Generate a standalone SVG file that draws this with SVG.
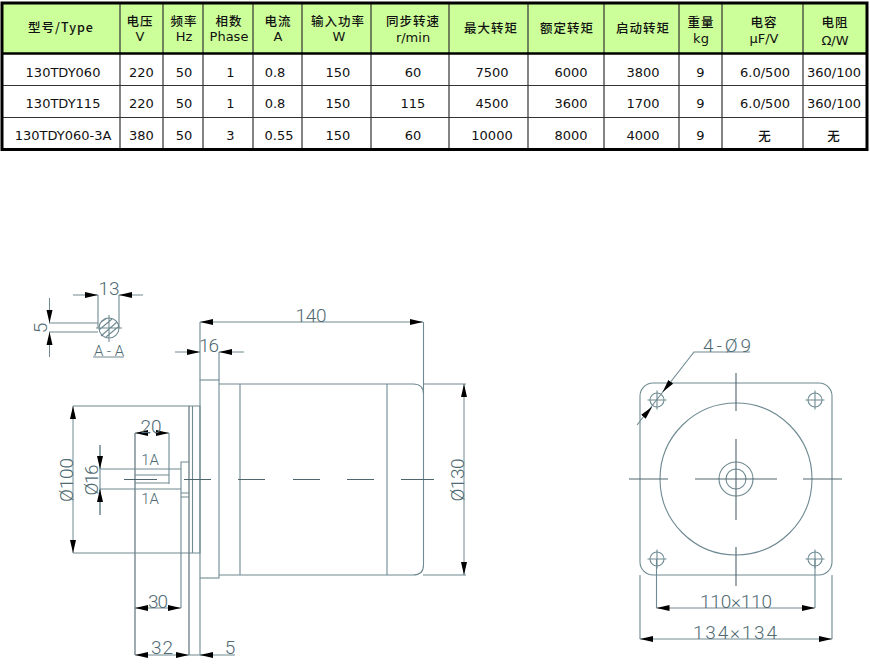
<svg xmlns="http://www.w3.org/2000/svg" width="870" height="665" viewBox="0 0 870 665">
<style>
.d{font-family:"DejaVu Sans",sans-serif;font-size:13px;fill:#111;text-anchor:middle}
.c{font-family:"Noto Sans CJK SC","DejaVu Sans",sans-serif;font-size:12.5px;font-weight:500;letter-spacing:1px;fill:#111;text-anchor:middle}
.l{stroke:#6f8a92;stroke-width:1.1;fill:none}
.k{stroke:#4f666e;stroke-width:1.1;fill:none}
.a{stroke:#6f8a92;stroke-width:1;fill:none;marker-end:url(#ar)}
.t{font-family:Roboto,"Liberation Sans",sans-serif;font-weight:300;font-size:19px;fill:#4f6a72;text-anchor:middle}
.s{font-size:15px}
.g{stroke:#333;stroke-width:1.2}
</style>
<defs>
<marker id="ar" markerUnits="userSpaceOnUse" markerWidth="14" markerHeight="7" refX="13" refY="3.5" orient="auto"><path d="M0 .5L13 3.5L0 6.500z" fill="#000"/></marker>
</defs>
<rect width="870" height="665" fill="#fff"/>
<g id="table">
<rect x="2" y="3" width="865" height="50" fill="#ccff99"/>
<g class="g">
<path d="M120 3V149M163 3V149M203 3V149M253 3V149M302 3V149M371 3V149M449 3V149M528 3V149M604 3V149M679 3V149M722 3V149M803 3V149"/>
<path d="M2 85.5H867M2 117.5H867"/>
</g>
<path d="M2 53.5H867" stroke="#000" stroke-width="2.5"/>
<rect x="2" y="3" width="865" height="146.500" fill="none" stroke="#000" stroke-width="3"/>
<g id="header">
<text class="c" x="61" y="32">型号/Type</text>
<text class="c" x="140" y="26">电压</text><text class="d" x="140" y="41">V</text>
<text class="c" x="184" y="26">频率</text><text class="d" x="184" y="41">Hz</text>
<text class="c" x="229" y="26">相数</text><text class="d" x="229" y="41">Phase</text>
<text class="c" x="278" y="26">电流</text><text class="d" x="278" y="41">A</text>
<text class="c" x="338" y="26">输入功率</text><text class="d" x="339" y="41">W</text>
<text class="c" x="413" y="26">同步转速</text><text class="d" x="413" y="42">r/min</text>
<text class="c" x="491" y="33">最大转矩</text>
<text class="c" x="567" y="33">额定转矩</text>
<text class="c" x="643" y="33">启动转矩</text>
<text class="c" x="701" y="27">重量</text><text class="d" x="701" y="43">kg</text>
<text class="c" x="764" y="27">电容</text><text class="d" x="764" y="43">μF/V</text>
<text class="c" x="835" y="27">电阻</text><text class="d" x="835" y="45">Ω/W</text>
</g>
<g id="row1">
<text class="d" x="63" y="76.5">130TDY060</text><text class="d" x="141.5" y="76.5">220</text><text class="d" x="184" y="76.5">50</text><text class="d" x="230.5" y="76.5">1</text><text class="d" x="275" y="76.5">0.8</text><text class="d" x="338" y="76.5">150</text><text class="d" x="413" y="76.5">60</text><text class="d" x="492" y="76.5">7500</text><text class="d" x="571" y="76.5">6000</text><text class="d" x="643" y="76.5">3800</text><text class="d" x="700.5" y="76.5">9</text><text class="d" x="765" y="76.5">6.0/500</text><text class="d" x="834" y="76.5">360/100</text>
</g>
<g id="row2">
<text class="d" x="63" y="108">130TDY115</text><text class="d" x="141.5" y="108">220</text><text class="d" x="184" y="108">50</text><text class="d" x="230.5" y="108">1</text><text class="d" x="275" y="108">0.8</text><text class="d" x="338" y="108">150</text><text class="d" x="413" y="108">115</text><text class="d" x="492" y="108">4500</text><text class="d" x="571" y="108">3600</text><text class="d" x="643" y="108">1700</text><text class="d" x="700.5" y="108">9</text><text class="d" x="765" y="108">6.0/500</text><text class="d" x="834" y="108">360/100</text>
</g>
<g id="row3">
<text class="d" x="63" y="140">130TDY060-3A</text><text class="d" x="141.5" y="140">380</text><text class="d" x="184" y="140">50</text><text class="d" x="230.5" y="140">3</text><text class="d" x="279" y="140">0.55</text><text class="d" x="338" y="140">150</text><text class="d" x="413" y="140">60</text><text class="d" x="492" y="140">10000</text><text class="d" x="571" y="140">8000</text><text class="d" x="643" y="140">4000</text><text class="d" x="700.5" y="140">9</text><text class="c" x="765" y="141">无</text><text class="c" x="834" y="141">无</text>
</g>
</g>
<g id="section-aa">
<circle class="l" cx="109" cy="328" r="10"/>
<path class="l" d="M109 315V342M96 328H122M101 322L107 318M99 330L112 319M101 336L117 322M106 337L118 327"/>
<path class="l" d="M98 295V328M119 295V328M49 323H98M49 332H98M93 357H124"/>
<path class="a" d="M73 295H98"/><path class="a" d="M143 295H119"/>
<path class="a" d="M49.5 298V323"/><path class="a" d="M49.5 357V332"/>
<text class="t" x="109" y="295" textLength="21">13</text>
<text class="t" transform="translate(47 328) rotate(-90)">5</text>
<text class="t s" x="109" y="356" textLength="30">A-A</text>
</g>
<g id="side-view">
<path class="l" d="M200 322V380M219 352V380"/>
<rect class="l" x="200" y="380" width="19" height="198"/>
<path class="l" d="M219 384H413Q423.5 384 423.5 394V565Q423.5 575 413 575H219M240 384V575M387 384V575"/>
<path class="l" d="M423.5 322V394M423 384H466M423 575H466"/>
<path class="l" d="M189 406H200V553H189M192.5 406V553"/>
<path class="k" d="M189 406V655M135 433V655"/>
<path class="l" d="M73 406H189M73 553H189"/>
<path class="l" d="M181 608V462H189M181 497H189M181 493H189"/>
<path class="l" d="M100 469H181M100 489H181M135 475H169M135 483H169M169 433V484"/>
<path class="l" d="M100 445V515M189 655H235M200 578V655"/>
<path class="k" d="M124 479.5H157M184 479.5H211M238 479.5H265M293 479.5H320M347 479.5H374M401 479.5H434"/>
<path class="a" d="M240 322H200"/><path class="a" d="M300 322H423"/>
<path class="l" d="M240 322H300"/>
<path class="a" d="M175 352H200"/><path class="a" d="M244 352H219"/>
<path class="a" d="M73 480V406"/><path class="a" d="M73 480V553"/>
<path class="a" d="M150 433H135"/><path class="a" d="M155 433H169"/>
<path class="a" d="M100 445V469"/><path class="a" d="M100 515V489"/>
<path class="a" d="M158 608H135"/><path class="a" d="M158 608H181"/>
<path class="a" d="M162 655H135"/><path class="a" d="M162 655H189"/>
<path class="a" d="M212 655H200"/>
<path class="a" d="M464 480V384"/><path class="a" d="M464 480V575"/>
<text class="t" x="311" y="322" textLength="31">140</text>
<text class="t" x="209" y="352" textLength="20">16</text>
<text class="t" x="151" y="433" textLength="21">20</text>
<text class="t s" x="150" y="465">1A</text>
<text class="t s" x="150" y="504">1A</text>
<text class="t" x="158" y="608" textLength="20">30</text>
<text class="t" x="162" y="654" textLength="22">32</text>
<text class="t" x="230" y="654">5</text>
<text class="t" transform="translate(73 480) rotate(-90)" textLength="44">Ø100</text>
<text class="t" transform="translate(98 480) rotate(-90)" textLength="31">Ø16</text>
<text class="t" transform="translate(464 480) rotate(-90)" textLength="43">Ø130</text>
</g>
<g id="front-view">
<rect class="l" x="640" y="383" width="192" height="192" rx="13"/>
<circle class="l" cx="736" cy="479" r="76"/>
<circle class="l" cx="736" cy="479" r="17"/>
<circle class="l" cx="736" cy="479" r="10"/>
<path class="k" d="M629 479H668M695 479H777M803 479H842M736 373V411M736 439V520M736 547V586"/>
<g id="holes" class="l">
<circle cx="657" cy="400" r="7"/><circle cx="815" cy="400" r="7"/><circle cx="657" cy="559" r="7"/><circle cx="815" cy="559" r="7"/>
<path d="M647.500 400H666.500M657 390.500V409.500M805.500 400H824.500M815 390.500V409.500M647.500 559H666.500M657 549.500V568.500M805.500 559H824.500M815 549.500V568.500"/>
</g>
<path class="l" d="M637 425L694 352H750"/>
<path class="a" d="M669 384L662.700 392"/><path class="a" d="M645 415L652 407"/>
<path class="l" d="M656.500 559V608M815 559V608M640 575V639M832 575V639"/>
<path class="a" d="M736 608H656.500"/><path class="a" d="M736 608H815"/>
<path class="a" d="M736 639H640"/><path class="a" d="M736 639H832"/>
<text class="t" x="727" y="352" textLength="48">4-Ø9</text>
<text class="t" x="736" y="608" textLength="72">110×110</text>
<text class="t" x="735" y="639" textLength="84">134×134</text>
</g>
</svg>
